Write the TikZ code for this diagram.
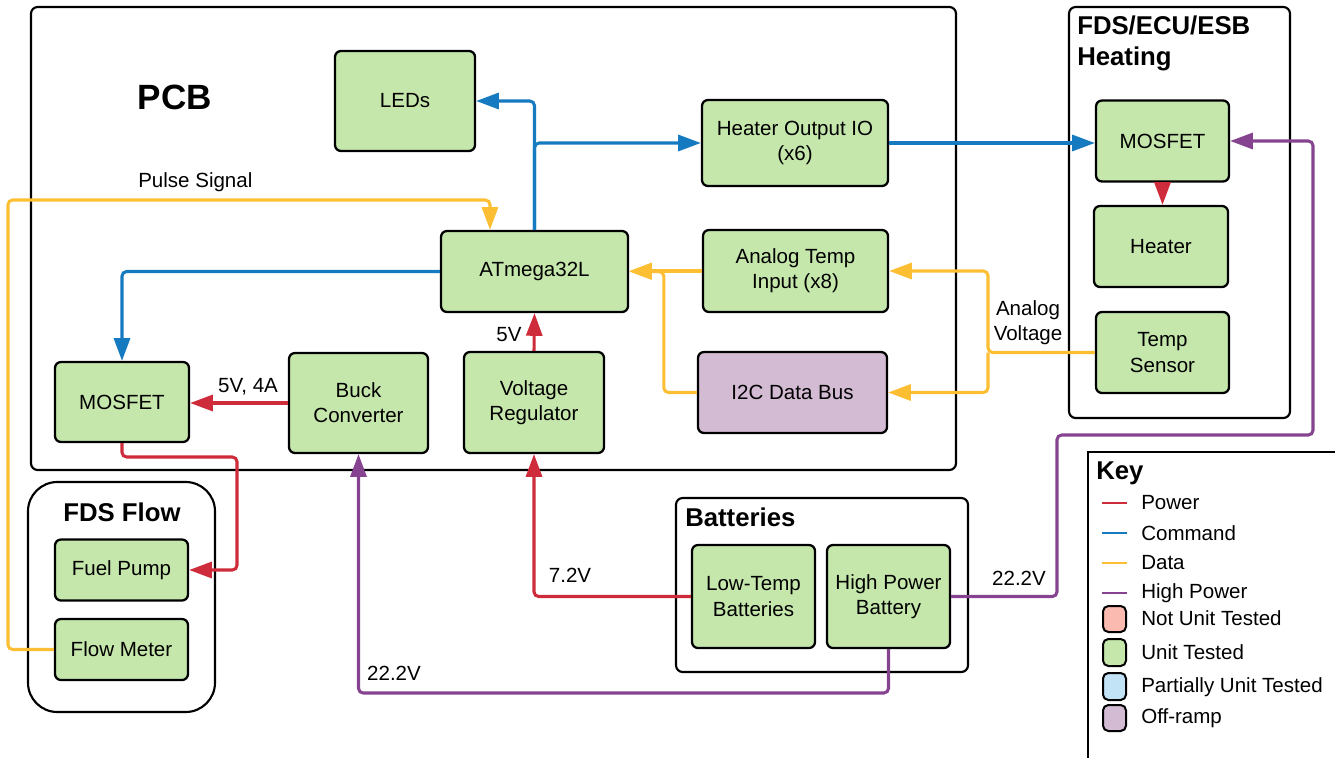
\documentclass[tikz,border=0pt]{standalone}
\usepackage{fontspec}
\setmainfont{Liberation Sans}
\usetikzlibrary{arrows.meta}

\definecolor{powred}{RGB}{206,44,58}
\definecolor{cmdblue}{RGB}{22,122,192}
\definecolor{datyellow}{RGB}{252,191,52}
\definecolor{hppurple}{RGB}{134,68,144}
\definecolor{unitgreen}{RGB}{197,231,171}
\definecolor{offpurple}{RGB}{211,188,211}
\definecolor{notested}{RGB}{251,186,176}
\definecolor{parttested}{RGB}{193,227,245}

\begin{document}
\begin{tikzpicture}[x=0.75pt,y=-0.75pt,
  blk/.style={draw=black, line width=1.7pt, rounded corners=4.5pt, fill=unitgreen, align=center, inner sep=0pt, font=\fontsize{15.4}{18.8}\selectfont},
  sz/.style 2 args={minimum width=#1*0.75pt, minimum height=#2*0.75pt},
  grp/.style={draw=black, line width=1.6pt, rounded corners=5pt},
  ttl/.style={font=\fontsize{19.3}{23.2}\selectfont\bfseries, align=left, inner sep=0pt},
  lbl/.style={font=\fontsize{15.4}{18.8}\selectfont, align=center, inner sep=0pt},
  wire/.style={line width=2.3pt, rounded corners=3.5pt, -{Triangle[length=17pt,width=12pt]}},
  pow/.style={wire, draw=powred},
  cmd/.style={wire, draw=cmdblue},
  dat/.style={wire, draw=datyellow},
  hpw/.style={wire, draw=hppurple},
  keyline/.style={line width=1.3pt},
  keybox/.style={draw=black, line width=1.5pt, rounded corners=4pt}]
\useasboundingbox (0,0) rectangle (1335,757);
\draw[grp] (31,7) rectangle (956,470);
\draw[grp] (1069,7) rectangle (1290,418);
\draw[grp, rounded corners=22pt] (28,482) rectangle (215,712);
\draw[grp] (676,498) rectangle (968,672);
\draw[grp, line width=1.5pt, rounded corners=0pt] (1088,452) rectangle (1345,770);
\node[ttl, font=\fontsize{26.3}{30}\selectfont\bfseries] (pcbttl) at (175,97) {PCB};
\node[ttl, anchor=west] (heatttl) at (1077,43) {FDS/ECU/ESB\\Heating};
\node[ttl] (flowttl) at (122,512) {FDS Flow};
\node[ttl, anchor=west] (batttl) at (685,517) {Batteries};
\node[ttl, anchor=west] (keyttl) at (1096,473) {Key};

\node[blk, sz={140}{100}] (leds) at (405,101) {LEDs};
\node[blk, sz={186}{86}] (heatio) at (795,143) {Heater Output IO\\(x6)};
\node[blk, sz={187}{81}] (atmega) at (534.5,271.5) {ATmega32L};
\node[blk, sz={185}{82}] (atemp) at (795.5,271) {Analog Temp\\Input (x8)};
\node[blk, sz={189}{81}, fill=offpurple] (i2c) at (792.5,392.5) {I2C Data Bus};
\node[blk, sz={134}{80}] (mosa) at (122,402) {MOSFET};
\node[blk, sz={139}{100}] (buck) at (358.5,403) {Buck\\Converter};
\node[blk, sz={140}{101}] (vreg) at (534,402.5) {Voltage\\Regulator};
\node[blk, sz={133}{81}] (mosb) at (1162.5,141) {MOSFET};
\node[blk, sz={134}{81}] (heater) at (1161,246.5) {Heater};
\node[blk, sz={133}{81}] (tsens) at (1162.5,352.5) {Temp\\Sensor};
\node[blk, sz={133}{61}] (pump) at (121.5,570) {Fuel Pump};
\node[blk, sz={133}{61}] (fmeter) at (121.5,649.5) {Flow Meter};
\node[blk, sz={123}{103}] (lowtemp) at (753.5,596.5) {Low-Temp\\Batteries};
\node[blk, sz={123}{103}] (hipow) at (888.5,596.5) {High Power\\Battery};

\coordinate (pulse) at (8,200);
\draw[dat] (fmeter.west) -| (pulse) -| ([xshift=-33.4pt]atmega.north);
\node[lbl, anchor=west] (pulselbl) at (138,182) {Pulse Signal};
\draw[cmd] (atmega.west) -| (mosa.north);
\draw[cmd] (atmega.north) |- (leds.east);
\draw[cmd] (atmega.north) |- (heatio.west);
\draw[cmd] (heatio.east) -- (heatio.east -| mosb.west);
\draw[pow] (mosb.south) -- (mosb.south |- heater.north);
\coordinate (hpa) at (1057,435);
\coordinate (hpb) at (1313,435);
\draw[hpw] (hipow.east) -| (hpa) -- (hpb) |- (mosb.east);
\node[lbl] (hvlbl) at (1019,578) {22.2V};
\coordinate (avj) at (988,352.5);
\draw[dat] (tsens.west) -- (avj) |- (atemp.east);
\draw[dat] (avj) |- (i2c.east);
\node[lbl] (avlbl) at (1028,323) {Analog\\Voltage};
\draw[dat] (atemp.west) -- (atemp.west -| atmega.east);
\draw[dat] (i2c.west) -| ([xshift=26pt]atmega.east) -- (atmega.east);
\draw[pow] (buck.west) -- (buck.west -| mosa.east);
\node[lbl] (buckv) at (248,387) {5V, 4A};
\draw[pow] (vreg.north) -- (atmega.south);
\node[lbl] (regv) at (509,335) {5V};
\coordinate (pmp) at (237,457);
\draw[pow] (mosa.south) |- (pmp) |- (pump.east);
\draw[pow] (lowtemp.west) -| (vreg.south);
\node[lbl] (lowv) at (570,575) {7.2V};
\coordinate (hpc) at (888.5,693);
\draw[hpw] (hipow.south) -- (hpc) -| (buck.south);
\node[lbl] (buckhv) at (394,673) {22.2V};

\draw[keyline, powred] (1102,503) -- (1127,503);
\node[lbl, anchor=west] (kpow) at (1141,503) {Power};
\draw[keyline, cmdblue] (1102,533) -- (1127,533);
\node[lbl, anchor=west] (kcmd) at (1141,533) {Command};
\draw[keyline, datyellow] (1102,563) -- (1127,563);
\node[lbl, anchor=west] (kdat) at (1141,563) {Data};
\draw[keyline, hppurple] (1102,593) -- (1127,593);
\node[lbl, anchor=west] (khpw) at (1141,593) {High Power};
\draw[keybox, fill=notested] (1103,606) rectangle (1126,632);
\node[lbl, anchor=west] (knot) at (1141,618) {Not Unit Tested};
\draw[keybox, fill=unitgreen] (1103,639) rectangle (1126,666);
\node[lbl, anchor=west] (kunit) at (1141,652) {Unit Tested};
\draw[keybox, fill=parttested] (1103,673) rectangle (1126,700);
\node[lbl, anchor=west] (kpart) at (1141,687) {Partially Unit Tested};
\draw[keybox, fill=offpurple] (1103,705) rectangle (1126,731);
\node[lbl, anchor=west] (koff) at (1141,718) {Off-ramp};
\end{tikzpicture}
\end{document}
